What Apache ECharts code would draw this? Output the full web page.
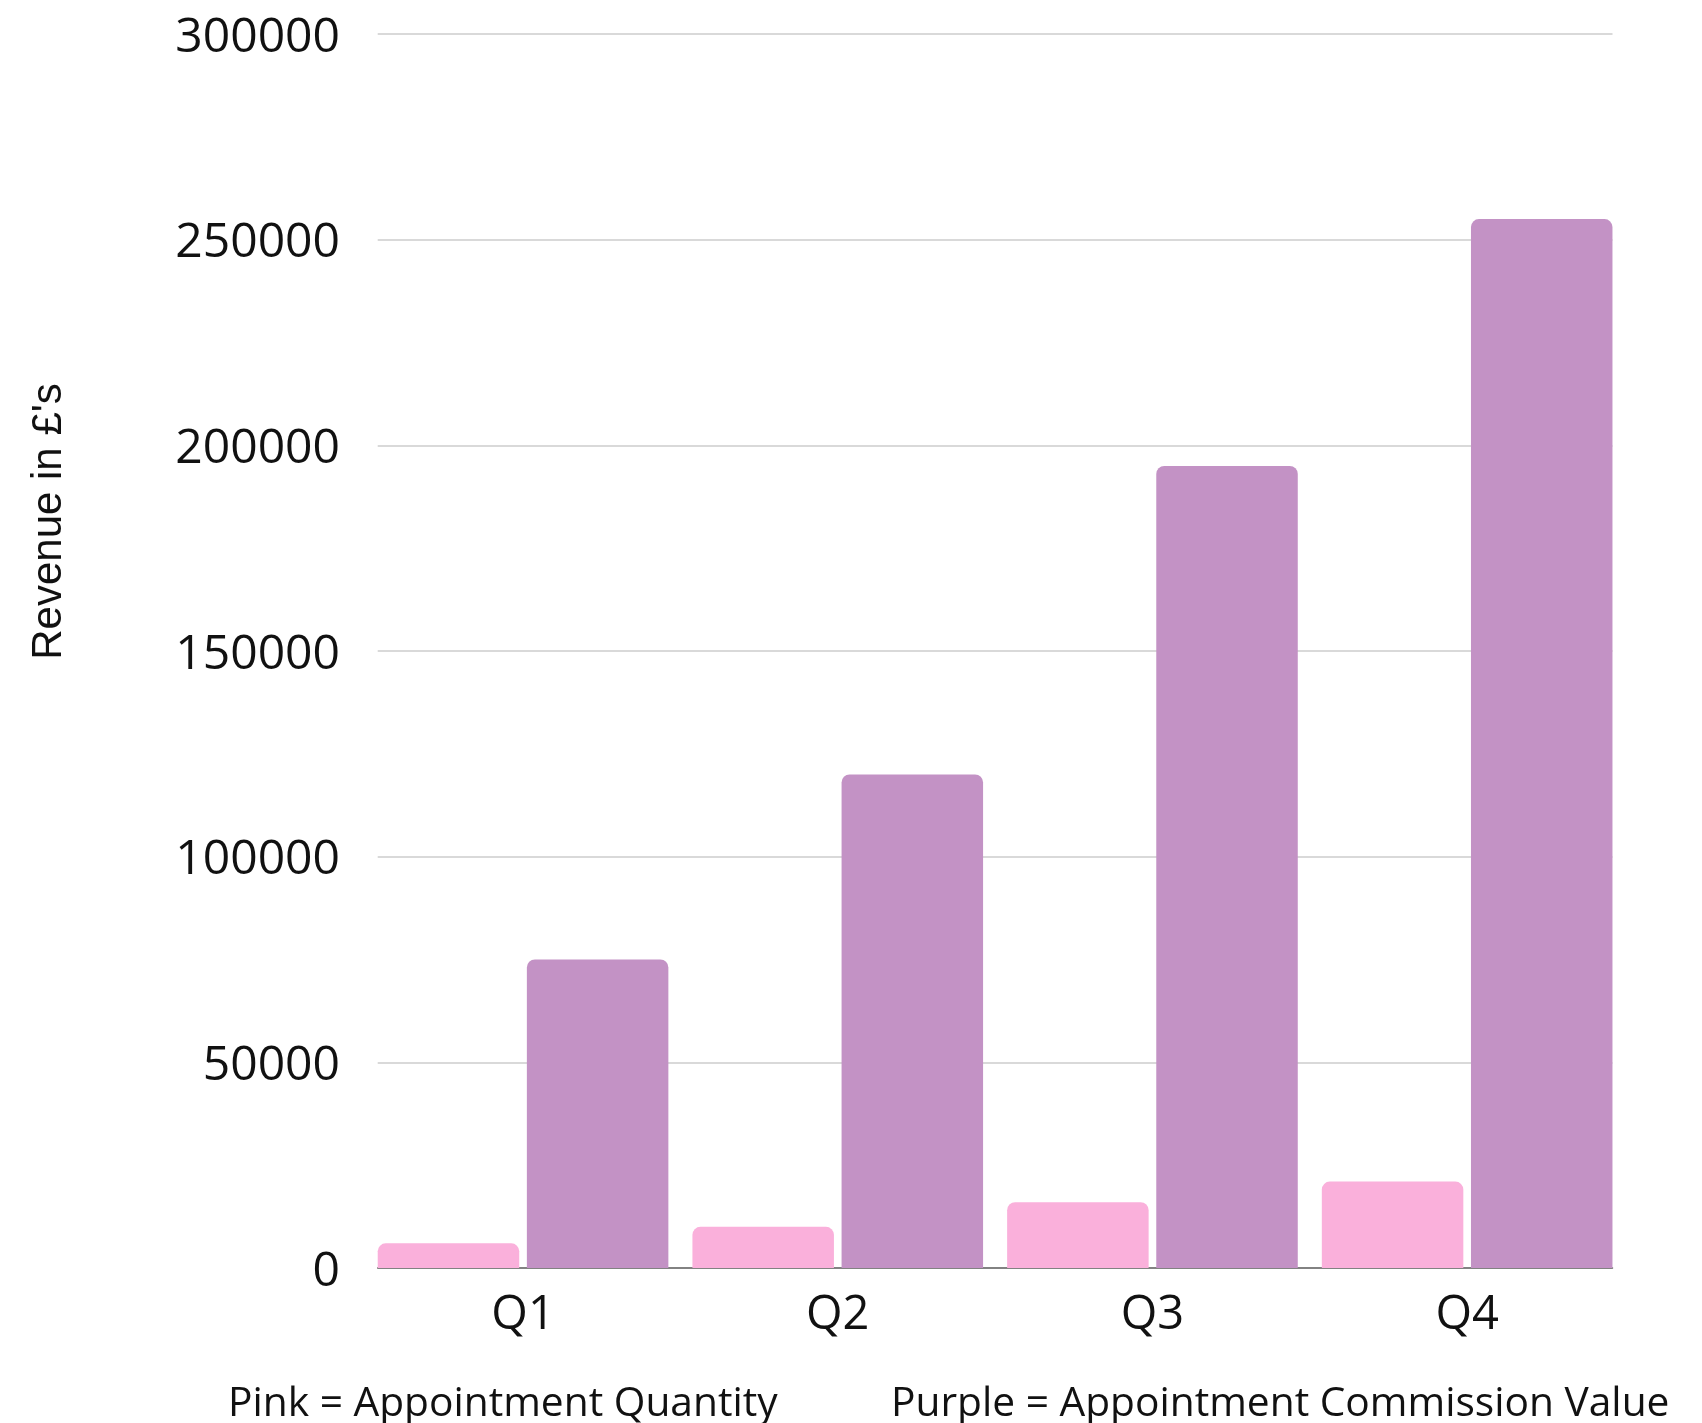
<!DOCTYPE html>
<html>
<head>
<meta charset="utf-8">
<script src="https://cdn.jsdelivr.net/npm/echarts@6/dist/echarts.min.js"></script>
<style>
html,body{margin:0;padding:0;background:#fff;}
#chart{width:1702px;height:1423px;}
</style>
</head>
<body>
<div id="chart"></div>
<script>
const categories = ['Q1', 'Q2', 'Q3', 'Q4'];
const appointmentQuantity = [6000, 10000, 16000, 21000];
const commissionValue = [75000, 120000, 195000, 255000];
const yTicks = { min: 0, max: 300000, interval: 50000 };
const axisName = "Revenue in £'s";
const noteLeft = 'Pink = Appointment Quantity';
const noteRight = 'Purple = Appointment Commission Value';

const chart = echarts.init(document.getElementById('chart'), null, { renderer: 'canvas' });
const TOP = 34, BOTTOM = 155;
chart.setOption({
  backgroundColor: '#ffffff',
  animation: false,
  grid: [
    { left: 365.7, right: 77.5, top: TOP, bottom: BOTTOM, containLabel: false },
    { left: 377.7, right: 89.5, top: TOP, bottom: BOTTOM, containLabel: false }
  ],
  xAxis: [
    {
      type: 'category', gridIndex: 0, data: categories,
      axisLine: { show: false }, axisTick: { show: false }, splitLine: { show: false },
      axisLabel: { fontFamily: 'Open Sans', fontSize: 47, color: '#111', margin: 24 }
    },
    {
      type: 'value', gridIndex: 1, min: 0, max: 1,
      axisLine: { show: true, onZero: false, lineStyle: { color: '#666', width: 1.5 } },
      axisTick: { show: false }, axisLabel: { show: false }, splitLine: { show: false }
    }
  ],
  yAxis: [
    { type: 'value', gridIndex: 0, min: yTicks.min, max: yTicks.max, interval: yTicks.interval, show: false },
    {
      type: 'value', gridIndex: 1, min: yTicks.min, max: yTicks.max, interval: yTicks.interval,
      axisLine: { show: false }, axisTick: { show: false },
      axisLabel: {
        fontFamily: 'Open Sans', fontSize: 48, color: '#111', margin: 37.7,
        formatter: function (v) { return '{v|' + String(v) + '}'; },
        rich: { v: { fontFamily: 'Open Sans', fontSize: 48, color: '#111', padding: [8, 0, 0, 0] } }
      },
      splitLine: { show: true, lineStyle: { color: '#cccccc', width: 1.5 } }
    }
  ],
  series: [
    {
      name: 'Appointment Quantity', type: 'bar', xAxisIndex: 0, yAxisIndex: 0,
      data: appointmentQuantity, barWidth: 141.5, barGap: '5.4%', z: 5,
      itemStyle: { color: '#FAB0DB', borderRadius: [8, 8, 0, 0] }
    },
    {
      name: 'Appointment Commission Value', type: 'bar', xAxisIndex: 0, yAxisIndex: 0,
      data: commissionValue, barWidth: 141.5, barGap: '5.4%', z: 5,
      itemStyle: { color: '#C392C5', borderRadius: [8, 8, 0, 0] }
    }
  ],
  graphic: [
    {
      type: 'text', x: 49, y: 521.5, rotation: Math.PI / 2,
      style: { text: axisName, fontFamily: 'Liberation Sans', fontSize: 42, fill: '#111',
               textAlign: 'center', textVerticalAlign: 'middle' }
    },
    {
      type: 'text', x: 228, y: 1404,
      style: { text: noteLeft, fontFamily: 'Open Sans', fontSize: 40.7, fill: '#111',
               textAlign: 'left', textVerticalAlign: 'middle' }
    },
    {
      type: 'text', x: 891, y: 1404,
      style: { text: noteRight, fontFamily: 'Open Sans', fontSize: 40.7, fill: '#111',
               textAlign: 'left', textVerticalAlign: 'middle' }
    }
  ]
});
</script>
</body>
</html>
